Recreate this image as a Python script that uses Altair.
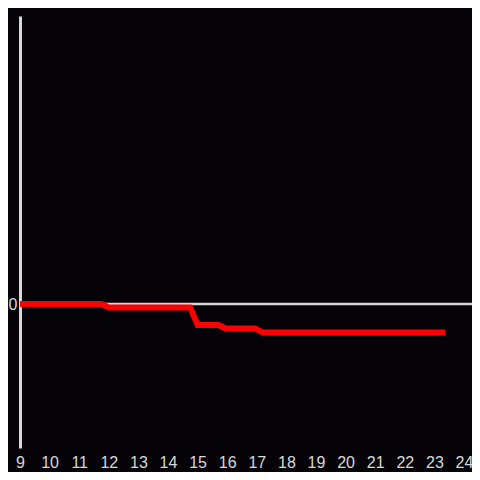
import altair as alt
import pandas as pd

# data
hours = [9, 11.75, 12.0, 14.75, 15.0, 15.7, 15.95, 16.95, 17.2, 23.37]
values = [0, 0, -0.024, -0.024, -0.146, -0.146, -0.17, -0.17, -0.198, -0.198]
x_ticks = list(range(9, 25))

line_df = pd.DataFrame({"hour": hours, "value": values})
zero_df = pd.DataFrame({"hour": [9], "x1": [24.6], "value": [0]})

BG = "#050307"
FG = "#d8d8d8"

xs = alt.Scale(domain=[9, 24], nice=False, zero=False)
ys = alt.Scale(domain=[-1, 2], nice=False, zero=False)

x_axis = alt.Axis(values=x_ticks, title=None, domain=False, ticks=False, grid=False,
                  labelColor=FG, labelFontSize=16, labelFont="Liberation Sans",
                  labelPadding=6, labelFlush=False, labelOverlap=False, format="d")
y_axis = alt.Axis(values=[0], title=None, domain=True, domainColor=FG, domainWidth=3,
                  ticks=False, grid=False, labelColor=FG, labelFontSize=16,
                  labelFont="Liberation Sans", labelPadding=3)

zero_rule = alt.Chart(zero_df).mark_rule(color=FG, strokeWidth=2.5, clip=False).encode(
    x=alt.X("hour:Q", scale=xs, axis=x_axis),
    x2="x1:Q",
    y=alt.Y("value:Q", scale=ys, axis=y_axis),
)

line = alt.Chart(line_df).mark_line(color="#ff0000", strokeWidth=6, strokeCap="butt", strokeJoin="miter").encode(
    x=alt.X("hour:Q", scale=xs, axis=x_axis),
    y=alt.Y("value:Q", scale=ys, axis=y_axis),
)

chart = alt.layer(zero_rule, line).properties(
    width=444, height=432, background=BG,
    padding={"left": 12, "top": 8, "right": 8, "bottom": 24},
    autosize=alt.AutoSizeParams(type="none"),
).configure_view(stroke=None, fill=BG)

chart.save("out.html", embed_options={"renderer": "svg", "actions": False})
